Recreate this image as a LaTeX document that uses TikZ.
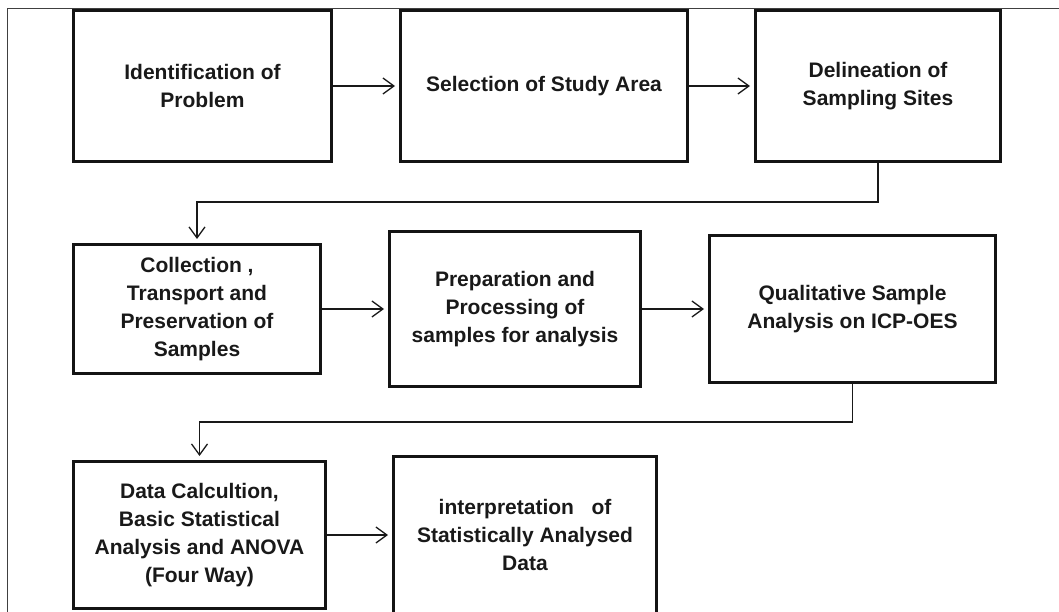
\documentclass[tikz,border=0pt]{standalone}
\usepackage{fontspec}
\setmainfont{Liberation Sans}
\usetikzlibrary{arrows.meta}
\begin{document}
\begin{tikzpicture}[x=1pt,y=-1pt,
  stepbox/.style={draw=black!92,line width=3pt,align=center,inner sep=0pt,
    font=\fontsize{21}{28}\selectfont\bfseries,text=black!90},
  conn/.style={draw=black!90,line width=1.3pt,
    -{Straight Barb[length=11pt,width=16pt,line width=1.3pt]},shorten >=4pt},
  frame/.style={draw=black!75,line width=0.9pt}]
\useasboundingbox (0,0) rectangle (1059,612);
\coordinate (ftl) at (7,8);
\coordinate (ftr) at (1059,8);
\coordinate (fbl) at (7,612);
\draw[frame] (fbl) -- (ftl) -- (ftr);
\node[stepbox,minimum width=258pt,minimum height=151pt] (b1) at (202.5,86) {Identification of\\Problem};
\node[stepbox,minimum width=287pt,minimum height=151pt] (b2) at (544,86) {Selection of Study Area};
\node[stepbox,minimum width=245pt,minimum height=151pt] (b3) at (878,86) {Delineation of\\Sampling Sites};
\node[stepbox,minimum width=247pt,minimum height=129pt] (b4) at (197,309) {Collection ,\\Transport and\\Preservation of\\Samples};
\node[stepbox,minimum width=251pt,minimum height=155pt] (b5) at (515,309) {Preparation and\\Processing of\\samples for analysis};
\node[stepbox,minimum width=286pt,minimum height=147pt] (b6) at (852.5,309) {Qualitative Sample\\Analysis on ICP-OES};
\node[stepbox,minimum width=252pt,minimum height=147pt] (b7) at (199.5,535) {Data Calcultion,\\Basic Statistical\\Analysis and ANOVA\\(Four Way)};
\node[stepbox,minimum width=263pt,minimum height=157pt] (b8) at (525,535) {interpretation\ \ \ of\\Statistically Analysed\\Data};
\draw[conn] (b1) -- (b2);
\draw[conn] (b2) -- (b3);
\draw[conn] (b4) -- (b5);
\draw[conn] (b5) -- (b6);
\draw[conn] (b7) -- (b8);
\draw[conn] (b3.south) -- (b3.south |- 0,202) -| (b4.north);
\draw[conn] (b6.south) -- (b6.south |- 0,422) -| (b7.north);
\end{tikzpicture}
\end{document}
